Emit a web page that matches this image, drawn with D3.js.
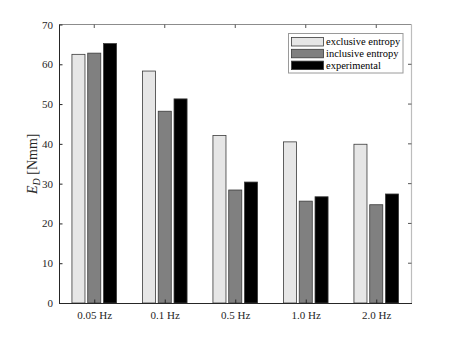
<!DOCTYPE html>
<html>
<head>
<meta charset="utf-8">
<script src="https://cdn.jsdelivr.net/npm/d3@7"></script>
<style>
  body { margin: 0; background: #fff; }
  svg text { font-family: "Liberation Serif", "DejaVu Serif", serif; }
</style>
</head>
<body>
<div id="chart"></div>
<script>
var categories = ["0.05 Hz", "0.1 Hz", "0.5 Hz", "1.0 Hz", "2.0 Hz"],
    seriesNames = ["exclusive entropy", "inclusive entropy", "experimental"],
    exclusive = [62.5, 58.3, 42.1, 40.5, 39.9],
    inclusive = [62.8, 48.2, 28.4, 25.6, 24.7],
    experimental = [65.2, 51.3, 30.4, 26.7, 27.4],
    yTicks = [0, 10, 20, 30, 40, 50, 60, 70],
    colors = ["#e6e6e6", "#808080", "#000000"];

var series = [exclusive, inclusive, experimental];

var margin = { top: 24.5, right: 43.5, bottom: 38, left: 59 },
    width = 455 - margin.left - margin.right,
    height = 341 - margin.top - margin.bottom;

var serif = "'Liberation Serif', 'DejaVu Serif', serif";

var svg = d3.select("#chart").append("svg")
    .attr("width", 455)
    .attr("height", 341)
  .append("g")
    .attr("transform", "translate(" + margin.left + "," + margin.top + ")");

// matlab style x limits 0.5 .. 5.5
var x = d3.scaleLinear().domain([0.5, 5.5]).range([0, width]);
var y = d3.scaleLinear().domain([0, 70]).range([height, 0]);

var barW = 0.185, offs = 0.224;

// bars
series.forEach(function(vals, s) {
  svg.selectAll(".bar" + s)
    .data(vals)
    .enter().append("rect")
      .attr("x", function(d, i) { return x(i + 1 + (s - 1) * offs - barW / 2); })
      .attr("y", function(d) { return y(d); })
      .attr("width", x(barW) - x(0))
      .attr("height", function(d) { return y(0) - y(d); })
      .style("fill", colors[s])
      .style("stroke", "#3a3a3a")
      .style("stroke-width", 0.8);
});

// box: top and right in grey
svg.append("line").attr("x1", 0).attr("x2", width).attr("y1", 0).attr("y2", 0)
    .style("stroke", "#8c8c8c");
svg.append("line").attr("x1", width).attr("x2", width).attr("y1", 0).attr("y2", height)
    .style("stroke", "#bdbdbd").style("stroke-width", 1.2);

// top ticks
svg.selectAll(".ttick").data(categories).enter().append("line")
    .attr("x1", function(d, i) { return x(i + 1); })
    .attr("x2", function(d, i) { return x(i + 1); })
    .attr("y1", 0).attr("y2", 3.5)
    .style("stroke", "#555");
// right ticks
svg.selectAll(".rtick").data(yTicks.slice(1, -1)).enter().append("line")
    .attr("x1", width).attr("x2", width - 3.5)
    .attr("y1", function(d) { return y(d); })
    .attr("y2", function(d) { return y(d); })
    .style("stroke", "#555");

var xAxis = d3.axisBottom(x)
    .tickValues([1, 2, 3, 4, 5])
    .tickFormat(function(d) { return categories[d - 1]; })
    .tickSizeInner(-3.5).tickSizeOuter(0).tickPadding(8);
var gx = svg.append("g").attr("transform", "translate(0," + height + ")").call(xAxis)
    .attr("font-family", serif).attr("font-size", 11);
gx.select(".domain").style("stroke", "#262626");
gx.selectAll("line").style("stroke", "#262626");
gx.selectAll("text").style("fill", "#262626");

var yAxis = d3.axisLeft(y).tickValues(yTicks)
    .tickSizeInner(-3.5).tickSizeOuter(0).tickPadding(6);
var gy = svg.append("g").call(yAxis)
    .attr("font-family", serif).attr("font-size", 11);
gy.select(".domain").style("stroke", "#262626");
gy.selectAll("line").style("stroke", "#262626");
gy.selectAll("text").style("fill", "#262626");

// y label
var yl = svg.append("text")
    .attr("transform", "translate(-22," + (height / 2) + ") rotate(-90)")
    .style("text-anchor", "middle")
    .style("font-size", "14px")
    .style("fill", "#262626");
yl.append("tspan").style("font-style", "italic").text("E");
yl.append("tspan").style("font-style", "italic").style("font-size", "10px")
    .attr("dy", 3).text("D");
yl.append("tspan").attr("dy", -3).text(" [Nmm]");

// legend
var lg = svg.append("g").attr("transform", "translate(" + (288.5 - margin.left) + "," + (33.5 - margin.top) + ")");
lg.append("rect").attr("width", 114.5).attr("height", 39.5)
    .style("fill", "#fff").style("stroke", "#9a9a9a");
seriesNames.forEach(function(name, i) {
  lg.append("rect")
    .attr("x", 3).attr("y", 4 + i * 11.8)
    .attr("width", 32).attr("height", 8.5)
    .style("fill", colors[i]).style("stroke", "#3a3a3a").style("stroke-width", 0.8);
  lg.append("text")
    .attr("x", 37.5).attr("y", 11.5 + i * 11.8)
    .style("font-size", "10.5px").style("fill", "#000")
    .text(name);
});
</script>
</body>
</html>
